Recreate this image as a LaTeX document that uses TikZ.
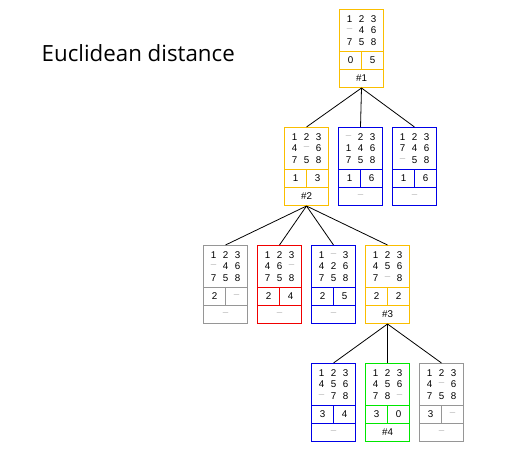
\documentclass[tikz,border=0pt]{standalone}
\usepackage{fontspec}
\setmainfont{Liberation Sans}
\newfontfamily\titlefont{Open Sans}

\definecolor{gold}{RGB}{250,190,0}
\definecolor{bblue}{RGB}{0,0,230}
\definecolor{bred}{RGB}{240,0,0}
\definecolor{bgreen}{RGB}{0,230,0}
\definecolor{bgray}{RGB}{150,150,150}
\definecolor{gapgray}{RGB}{185,185,185}

\tikzset{
  board/.style={rectangle, draw, minimum width=44pt, minimum height=78pt, inner sep=0pt, line width=1pt},
  tile/.style={font=\fontsize{9.8}{10}\selectfont, inner sep=0pt, text=black},
}

\newcommand{\gap}{\textcolor{gapgray}{\textendash}}

% name, centre, colour, tiles, g, h, label
\newcommand{\puzzle}[7]{%
  \begin{scope}[shift={(#2)}, shift={(0.5,0.5)}]
    \node[board, draw=#3] (#1) at (0,0) {};
    \draw[#3, line width=1pt] (-22,3) -- (22,3) (-22,21) -- (22,21) (0,3) -- (0,21);
    \foreach \val [count=\i from 0] in {#4} {
      \pgfmathsetmacro\cx{(mod(\i,3)-1)*12}
      \pgfmathsetmacro\cy{-29.7+floor(\i/3)*11.7}
      \node[tile] at (\cx,\cy) {\val};
    }
    \node[tile] at (-11,12) {#5};
    \node[tile] at (11,12) {#6};
    \node[tile] at (0,30) {#7};
  \end{scope}}

\begin{document}
\begin{tikzpicture}[x=1pt, y=-1pt]
  \useasboundingbox (0,0) rectangle (510,474);

  \node[font=\titlefont\fontsize{22.3}{24}\selectfont, anchor=base west, inner sep=0pt] (title) at (41.5,61) {Euclidean distance};

  \puzzle{1}{361,48}{gold}{1,2,3,\gap,4,6,7,5,8}{0}{5}{\#1}

  \puzzle{2}{306,166}{gold}{1,2,3,4,\gap,6,7,5,8}{1}{3}{\#2}
  \puzzle{3}{360,166}{bblue}{\gap,2,3,1,4,6,7,5,8}{1}{6}{\gap}
  \puzzle{4}{414,166}{bblue}{1,2,3,7,4,6,\gap,5,8}{1}{6}{\gap}

  \puzzle{5}{225,284}{bgray}{1,2,3,\gap,4,6,7,5,8}{2}{\gap}{\gap}
  \puzzle{6}{279,284}{bred}{1,2,3,4,6,\gap,7,5,8}{2}{4}{\gap}
  \puzzle{7}{333,284}{bblue}{1,\gap,3,4,2,6,7,5,8}{2}{5}{\gap}
  \puzzle{8}{387,284}{gold}{1,2,3,4,5,6,7,\gap,8}{2}{2}{\#3}

  \puzzle{9}{333,402}{bblue}{1,2,3,4,5,6,\gap,7,8}{3}{4}{\gap}
  \puzzle{10}{387,402}{bgreen}{1,2,3,4,5,6,7,8,\gap}{3}{0}{\#4}
  \puzzle{11}{441,402}{bgray}{1,2,3,4,\gap,6,7,5,8}{3}{\gap}{\gap}

  \begin{scope}[every edge/.style={draw, line width=0.8pt}]
    \path (1.south) edge (2.north);
    \path (1.south) edge (3.north);
    \path (1.south) edge (4.north);
    \path (2.south) edge (5.north);
    \path (2.south) edge (6.north);
    \path (2.south) edge (7.north);
    \path (2.south) edge (8.north);
    \path (8.south) edge (9.north);
    \path (8.south) edge (10.north);
    \path (8.south) edge (11.north);
  \end{scope}

\end{tikzpicture}
\end{document}
